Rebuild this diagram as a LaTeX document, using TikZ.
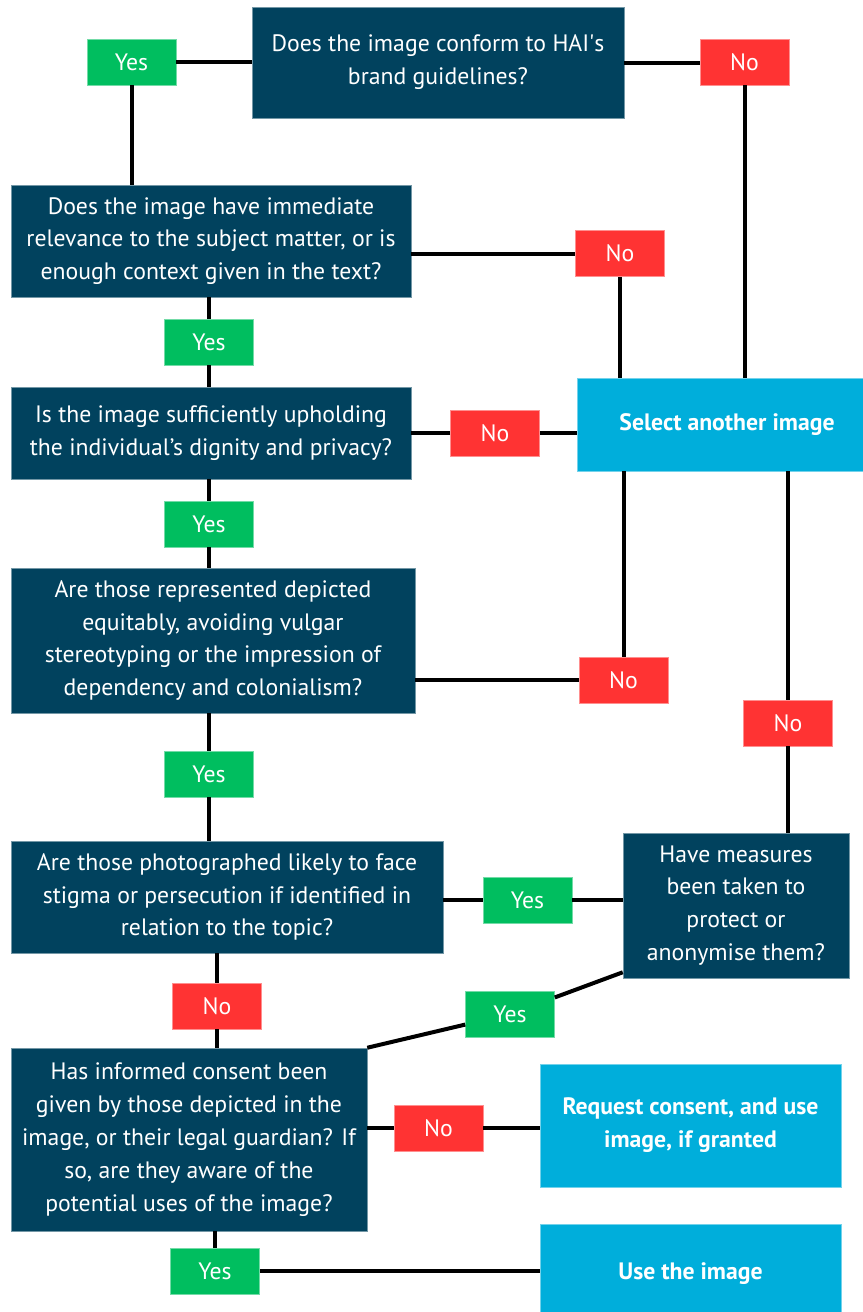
\documentclass[tikz,border=0pt]{standalone}
\usepackage{fontspec}
\setmainfont{PT Sans}

\definecolor{hainavy}{RGB}{1,66,94}
\definecolor{haigreen}{RGB}{0,190,95}
\definecolor{haired}{RGB}{255,51,51}
\definecolor{haicyan}{RGB}{0,174,219}

\tikzset{
	question/.style={fill=hainavy, draw=hainavy!55!white, line width=0.3pt, text=white, align=center, inner sep=0pt, font=\fontsize{13.5}{18.7}\selectfont},
	outcome/.style={fill=haicyan, draw=haicyan!55!white, line width=0.3pt, text=white, align=center, inner sep=0pt, font=\fontsize{13.5}{18.7}\selectfont\bfseries},
	yesbox/.style={fill=haigreen, draw=haigreen!55!white, line width=0.3pt, text=white, minimum width=17.8mm, minimum height=9.2mm, inner sep=0pt, font=\fontsize{13.5}{16}\selectfont},
	nobox/.style={fill=haired, draw=haired!55!white, line width=0.3pt, text=white, minimum width=17.8mm, minimum height=9.2mm, inner sep=0pt, font=\fontsize{13.5}{16}\selectfont},
	link/.style={line width=0.8mm, black}
}

\begin{document}
\begin{tikzpicture}[x=0.2mm, y=-0.2mm]

	\useasboundingbox (0,0) rectangle (863,1312);

	% Questions
	\node[question, minimum width=74.4mm, minimum height=22.2mm] (q1) at (438,62.5) {Does the image conform to HAI\textquotesingle s\\brand guidelines?};
	\node[question, minimum width=80mm, minimum height=22.4mm] (q2) at (211,241) {Does the image have immediate\\relevance to the subject matter, or is\\enough context given in the text?};
	\node[question, minimum width=80mm, minimum height=18.4mm] (q3) at (211,433) {Is the image sufficiently upholding\\the individual’s dignity and privacy?};
	\node[question, minimum width=80.8mm, minimum height=29mm] (q4) at (213,640.5) {Are those represented depicted\\equitably, avoiding vulgar\\stereotyping or the impression of\\dependency and colonialism?};
	\node[question, minimum width=86.4mm, minimum height=22.4mm] (q5) at (227,897) {Are those photographed likely to face\\stigma or persecution if identified in\\relation to the topic?};
	\node[question, minimum width=45.2mm, minimum height=29mm] (q6) at (736,905.5) {Have measures\\been taken to\\protect or\\anonymise them?};
	\node[question, minimum width=71.2mm, minimum height=36.6mm] (q7) at (189,1139.5) {Has informed consent been\\given by those depicted in the\\image, or their legal guardian? If\\so, are they aware of the\\potential uses of the image?};

	% Outcomes
	\node[outcome, minimum width=60mm, minimum height=18.6mm] (sel) at (727,424.5) {Select another image};
	\node[outcome, minimum width=60.2mm, minimum height=24.6mm] (req) at (690.5,1125.5) {Request consent, and use\\image, if granted};
	\node[outcome, minimum width=60.2mm, minimum height=20mm] (use) at (690.5,1274) {Use the image};

	% Answers
	\node[yesbox] (yes1) at (131.5,62) {Yes};
	\node[nobox] (no1) at (744.5,62) {No};
	\node[nobox] (no2) at (620,253.5) {No};
	\node[yesbox] (yes2) at (209,342) {Yes};
	\node[nobox] (no3) at (495,433) {No};
	\node[yesbox] (yes3) at (209,524) {Yes};
	\node[nobox] (no4) at (623.5,680) {No};
	\node[nobox] (no5) at (788,723) {No};
	\node[yesbox] (yes4) at (209,774) {Yes};
	\node[yesbox] (yes5) at (527.5,900) {Yes};
	\node[nobox] (no6) at (217,1006) {No};
	\node[yesbox] (yes6) at (510,1014) {Yes};
	\node[nobox] (no7) at (438.5,1128) {No};
	\node[yesbox] (yes7) at (215,1271) {Yes};

	% Liens
	\draw[link] (yes1.east) -- (yes1.east -| q1.west);
	\draw[link] (q1.east) -- (q1.east -| no1.west);
	\draw[link] (yes1) -- (yes1 |- q2.north);
	\draw[link] (no1) -- (no1 |- sel.north);

	\draw[link] (no2.west) -- (no2.west -| q2.east);
	\draw[link] (no2) -- (no2 |- sel.north);
	\draw[link] (yes2) -- (yes2 |- q2.south);
	\draw[link] (yes2) -- (yes2 |- q3.north);

	\draw[link] (no3.west) -- (no3.west -| q3.east);
	\draw[link] (no3.east) -- (no3.east -| sel.west);
	\draw[link] (yes3) -- (yes3 |- q3.south);
	\draw[link] (yes3) -- (yes3 |- q4.north);

	\draw[link] (no4.west) -- (no4.west -| q4.east);
	\draw[link] (no4) -- (no4 |- sel.south);
	\draw[link] (yes4) -- (yes4 |- q4.south);
	\draw[link] (yes4) -- (yes4 |- q5.north);

	\draw[link] (no5) -- (no5 |- sel.south);
	\draw[link] (no5) -- (no5 |- q6.north);

	\draw[link] (yes5.west) -- (yes5.west -| q5.east);
	\draw[link] (yes5.east) -- (yes5.east -| q6.west);
	\draw[link] (no6) -- (no6 |- q5.south);
	\draw[link] (no6) -- (no6 |- q7.north);

	\draw[link] ([yshift=1.2mm]q6.south west) -- (yes6) -- (q7.north east);

	\draw[link] (no7.west) -- (no7.west -| q7.east);
	\draw[link] (no7.east) -- (no7.east -| req.west);
	\draw[link] (yes7) -- (yes7 |- q7.south);
	\draw[link] (yes7.east) -- (yes7.east -| use.west);

\end{tikzpicture}
\end{document}
